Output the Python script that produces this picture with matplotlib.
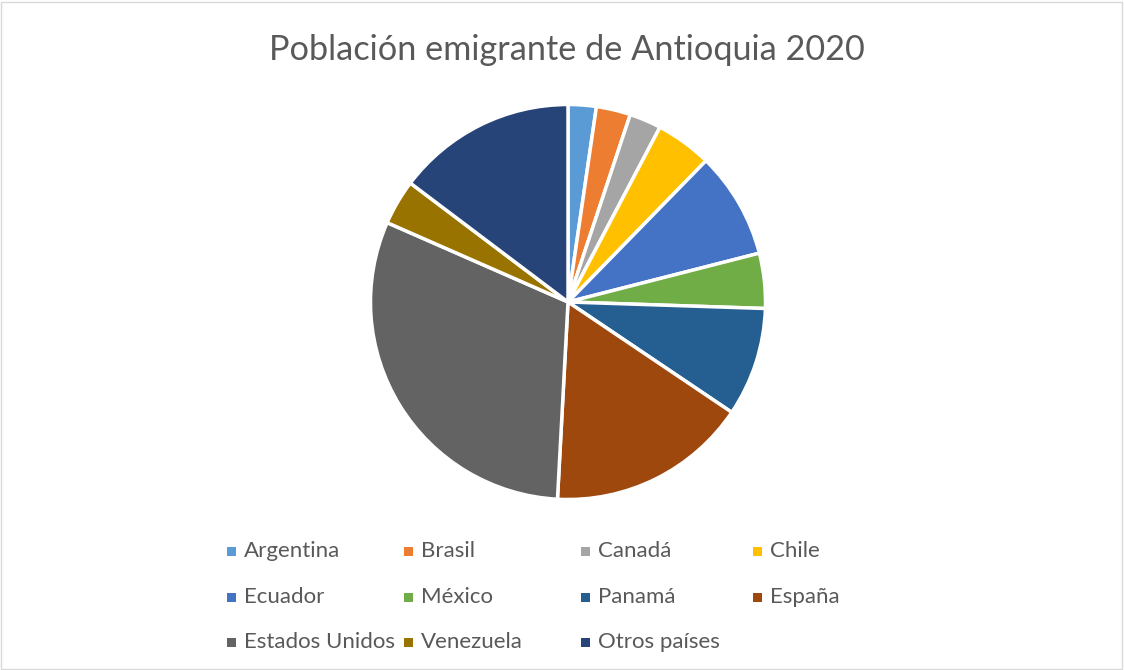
import matplotlib
matplotlib.use("Agg")
import matplotlib.pyplot as plt
from matplotlib.patches import Rectangle

paises = ["Argentina", "Brasil", "Canadá", "Chile", "Ecuador", "México",
          "Panamá", "España", "Estados Unidos", "Venezuela", "Otros países"]
porcentaje = [2.3, 2.8, 2.6, 4.6, 8.7, 4.5, 8.9, 16.4, 30.7, 3.7, 14.7]
colores = ["#5B9BD5", "#ED7D31", "#A5A5A5", "#FFC000", "#4472C4", "#70AD47",
           "#255E91", "#9E480E", "#636363", "#997300", "#264478"]

plt.rcParams['font.family'] = ['Lato', 'DejaVu Sans']

W, H = 1124, 670
fig = plt.figure(figsize=(W / 100, H / 100), dpi=100)

# marco gris claro
fig.patches.append(Rectangle((1 / W, 1 / H), 1 - 3 / W, 1 - 3 / H, transform=fig.transFigure,
                             fill=False, edgecolor="#D9D9D9", linewidth=1))

fig.text(567 / W, 1 - 50 / H, "Población emigrante de Antioquia 2020",
         ha="center", va="center", fontsize=24.7, color="#595959")

cx, cy, r = 568, 302, 197.5
ax = fig.add_axes([(cx - r) / W, (H - cy - r) / H, 2 * r / W, 2 * r / H])
ax.pie(porcentaje, colors=colores, startangle=90, counterclock=False,
       wedgeprops=dict(edgecolor="white", linewidth=2.5))
ax.set_xlim(-1, 1)
ax.set_ylim(-1, 1)
ax.set_aspect("equal")
ax.axis("off")

# leyenda en filas de 4
col_x = [231, 408, 585, 757]
row_y = [551, 597, 642]
for i, (lab, col) in enumerate(zip(paises, colores)):
    x = col_x[i % 4]
    y = row_y[i // 4]
    fig.patches.append(Rectangle(((x - 4.5) / W, (H - y - 4.5) / H), 9 / W, 9 / H,
                                 transform=fig.transFigure, facecolor=col, edgecolor="none"))
    fig.text((x + 13) / W, (H - y - 6) / H, lab, ha="left", va="baseline",
             fontsize=16, color="#595959")

fig.savefig("out.png", dpi=100)
